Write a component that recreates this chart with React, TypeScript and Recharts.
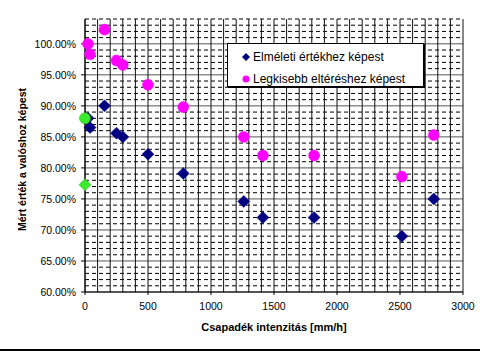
import React from "react";
import {
  ScatterChart,
  Scatter,
  XAxis,
  YAxis,
  ReferenceLine,
  Legend,
} from "recharts";

// rain intensity [mm/h], same for both series
const intensity = [24, 40, 155, 250, 300, 500, 780, 1260, 1412, 1818, 2515, 2768];
// measured / theoretical
const elmeleti = [0.88, 0.865, 0.9, 0.856, 0.85, 0.822, 0.791, 0.746, 0.72, 0.72, 0.69, 0.75];
// measured / smallest deviation
const legkisebb = [1.0, 0.983, 1.023, 0.973, 0.966, 0.934, 0.898, 0.85, 0.82, 0.82, 0.786, 0.853];
// the two green reference points at x = 0
const greenCircle = [{ x: 0, y: 0.88 }];
const greenDiamond = [{ x: 0, y: 0.773 }];

const xTicks = [0, 500, 1000, 1500, 2000, 2500, 3000];
const yTicks = [0.6, 0.65, 0.7, 0.75, 0.8, 0.85, 0.9, 0.95, 1.0];

// grid positions (vertical every 100 mm/h, horizontal every 1 %)
const xGrid = Array.from({ length: 31 }, (_, i) => i * 100);
const yMinorGrid = Array.from({ length: 45 }, (_, i) => +(0.6 + i * 0.01).toFixed(2)).filter(
  (v) => Math.round(v * 100) % 5 !== 0
);

const elmeletiData = intensity.map((x, i) => ({ x, y: elmeleti[i] }));
const legkisebbData = intensity.map((x, i) => ({ x, y: legkisebb[i] }));

const FONT = "'Liberation Sans', Arial, sans-serif";

const Diamond = (fill: string, stroke?: string) => (props: any) => {
  const { cx, cy } = props;
  const h = 6;
  return (
    <polygon
      points={`${cx},${cy - h} ${cx + h},${cy} ${cx},${cy + h} ${cx - h},${cy}`}
      fill={fill}
      stroke={stroke || fill}
      strokeWidth={0.5}
    />
  );
};

const Dot = (fill: string, stroke?: string) => (props: any) => {
  const { cx, cy } = props;
  return <circle cx={cx} cy={cy} r={5.5} fill={fill} stroke={stroke || fill} strokeWidth={0.5} />;
};

const renderLegend = () => (
  <div
    style={{
      border: "1px solid #000",
      background: "#fff",
      boxShadow: "1px 1px 0 #000",
      fontFamily: FONT,
      fontSize: 12,
      color: "#000",
      padding: "3px 0 0 14px",
      boxSizing: "border-box",
      width: 197,
      height: 44,
    }}
  >
    <div style={{ display: "flex", alignItems: "center", height: 19 }}>
      <svg width={8} height={8} style={{ marginRight: 3 }}>
        <polygon points="4,0 8,4 4,8 0,4" fill="#000080" />
      </svg>
      Elméleti értékhez képest
    </div>
    <div style={{ display: "flex", alignItems: "center", height: 19, marginTop: 3 }}>
      <svg width={8} height={8} style={{ marginRight: 3 }}>
        <circle cx={4} cy={4} r={3.5} fill="#ff00ff" />
      </svg>
      Legkisebb eltéréshez képest
    </div>
  </div>
);

const XLabel = (props: any) => {
  const { viewBox } = props;
  return (
    <text
      x={viewBox.x + viewBox.width / 2}
      y={viewBox.y + 35}
      textAnchor="middle"
      dominantBaseline="central"
      fontFamily={FONT}
      fontSize={11}
      fontWeight="bold"
      fill="#000"
    >
      Csapadék intenzitás [mm/h]
    </text>
  );
};

const YLabel = (props: any) => {
  const { viewBox } = props;
  const x = viewBox.x + 22;
  const y = viewBox.y + viewBox.height / 2 + 4;
  return (
    <text
      x={x}
      y={y}
      transform={`rotate(-90, ${x}, ${y})`}
      textAnchor="middle"
      dominantBaseline="central"
      fontFamily={FONT}
      fontSize={10.5}
      fontWeight="bold"
      fill="#000"
    >
      Mért érték a valóshoz képest
    </text>
  );
};

export default function App() {
  return (
    <div style={{ position: "absolute", left: 0, top: 0, width: 480, height: 351, background: "#fff" }}>
      <ScatterChart width={480} height={351} margin={{ top: 19, right: 17, bottom: 19, left: 0 }}>
        <XAxis
          type="number"
          dataKey="x"
          domain={[0, 3000]}
          ticks={xTicks}
          height={40}
          tickSize={3}
          tickMargin={8}
          stroke="#000"
          tick={{ fill: "#000", fontSize: 10.5, fontFamily: FONT }}
          label={<XLabel />}
        />
        <YAxis
          type="number"
          dataKey="y"
          domain={[0.6, 1.04]}
          ticks={yTicks}
          width={85}
          tickSize={4}
          tickMargin={5}
          stroke="#000"
          tickFormatter={(v) => `${(v * 100).toFixed(2)}%`}
          tick={{ fill: "#000", fontSize: 10.5, fontFamily: FONT }}
          label={<YLabel />}
        />
        {yMinorGrid.map((v) => (
          <ReferenceLine key={`ym-${v}`} y={v} stroke="#000" strokeDasharray="4 3" />
        ))}
        {yTicks.map((v) => (
          <ReferenceLine key={`yM-${v}`} y={v} stroke="#555" />
        ))}
        {xGrid.map((v) => (
          <ReferenceLine key={`x-${v}`} x={v} stroke="#111" />
        ))}
        <Legend
          layout="vertical"
          align="center"
          verticalAlign="middle"
          content={renderLegend}
          wrapperStyle={{ left: 227, top: 43, width: 199, height: 46 }}
        />
        <Scatter
          name="Elméleti értékhez képest"
          data={elmeletiData}
          shape={Diamond("#000080")}
          isAnimationActive={false}
        />
        <Scatter
          name="Legkisebb eltéréshez képest"
          data={legkisebbData}
          shape={Dot("#ff00ff")}
          isAnimationActive={false}
        />
        <Scatter
          name="green circle"
          data={greenCircle}
          shape={Dot("#3cea2c", "#22aa22")}
          legendType="none"
          isAnimationActive={false}
        />
        <Scatter
          name="green diamond"
          data={greenDiamond}
          shape={Diamond("#3cea2c", "#22aa22")}
          legendType="none"
          isAnimationActive={false}
        />
      </ScatterChart>
      <div style={{ position: "absolute", left: 0, top: 349, width: 480, height: 2, background: "#000" }} />
    </div>
  );
}
